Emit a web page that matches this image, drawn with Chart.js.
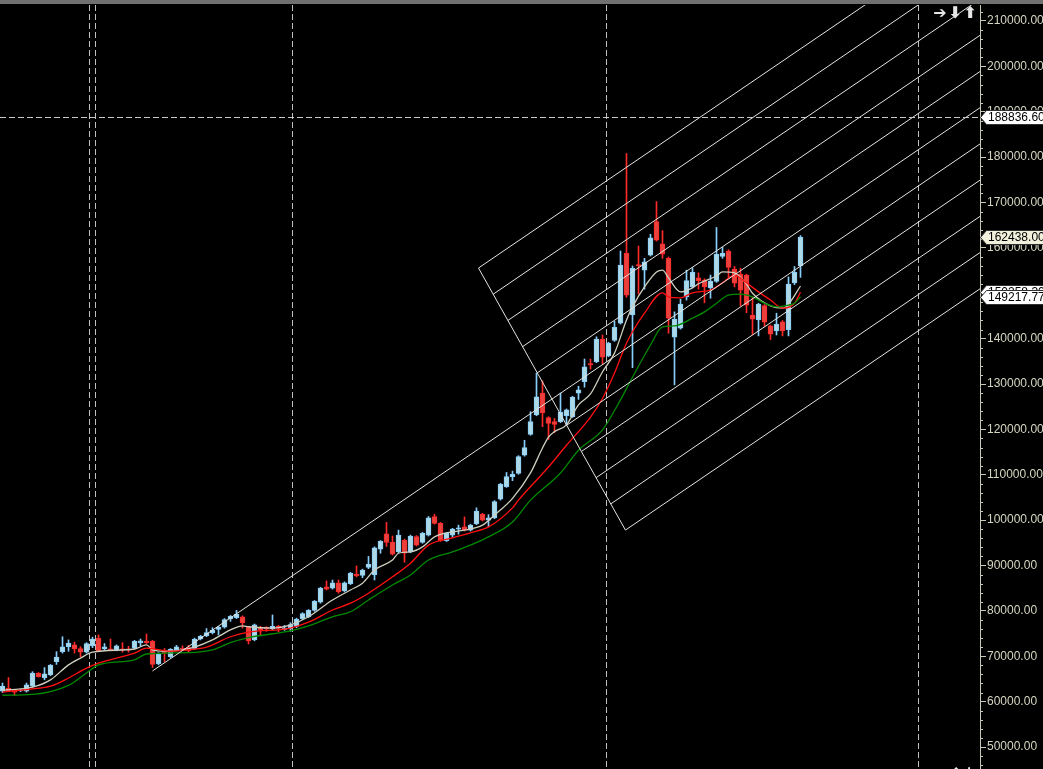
<!DOCTYPE html>
<html>
<head>
<meta charset="utf-8">
<style>
  html, body { margin: 0; padding: 0; background: #000; }
  canvas { display: block; }
</style>
<script src="https://cdn.jsdelivr.net/npm/chart.js@4.4.1/dist/chart.umd.min.js"></script>
</head>
<body>
<canvas id="chart" width="1043" height="769"></canvas>
<script>
// candles, oldest first (bar index = position in array)
var opens = [
  62300, 63000, 62500, 62400, 62300, 63400, 66300, 65300, 65900, 68800,
  71000, 72100, 72500, 71700, 70900, 72300, 74000, 71600, 71600, 71400,
  71600, 71600, 71800, 73000, 73300, 73300, 68300, 71000, 69900, 71400,
  71800, 71900, 71700, 73800, 74500, 75200, 75900, 76400, 78200, 78500,
  78700, 76400, 73600, 76400, 76400, 76000, 76600, 75900, 76000, 76600,
  78300, 78700, 80100, 81900, 85300, 85000, 86200, 84400, 86000, 88100,
  87800, 89600, 87900, 93600, 97000, 95100, 93000, 95600, 93000, 96400,
  95100, 96700, 100800, 99300, 95500, 96700, 98000, 98500, 97800, 99200,
  101300, 100000, 100500, 104600, 107400, 109600, 110300, 114300, 118900, 123200,
  128000, 122600, 121700, 121700, 123000, 122800, 128000, 130500, 134500, 134900,
  139900, 136200, 139600, 143400, 158800, 145200, 156300, 155100, 158400, 165800,
  160900, 157700, 140300, 142300, 149200, 151400, 153400, 152900, 151200, 152600,
  158100, 159300, 155300, 154200, 154000, 145200, 144100, 147300, 142800, 141700,
  143700, 142000, 152300, 156000
];
var highs = [
  64100, 65300, 62700, 62800, 64100, 66600, 66400, 67500, 68200, 71000,
  74300, 73600, 73100, 72100, 73000, 74200, 74700, 72800, 73800, 72500,
  73000, 72200, 73500, 73800, 74900, 73500, 70800, 71700, 71700, 72400,
  72300, 72400, 74000, 74600, 76100, 76300, 76600, 78300, 79000, 80100,
  78900, 76600, 77100, 76600, 76500, 79100, 76800, 76800, 77400, 78400,
  79600, 80300, 82300, 85200, 86600, 86800, 86800, 86400, 88500, 89900,
  89200, 92000, 94100, 95500, 99500, 96500, 97800, 95800, 96700, 96600,
  97300, 100800, 101300, 99500, 97300, 98200, 98900, 100700, 99100, 102700,
  101500, 101200, 104300, 108100, 110500, 110800, 114200, 117600, 123900, 132400,
  130700, 122800, 122400, 128000, 124500, 127300, 129500, 135500, 135500, 140400,
  140800, 139200, 143800, 159300, 180800, 156000, 160400, 157700, 163000, 170200,
  163800, 158000, 145900, 148700, 155100, 155600, 154500, 153200, 154000, 164500,
  160100, 159600, 155900, 155500, 154200, 149200, 147800, 147500, 143000, 145600,
  144000, 153600, 155900, 162700
];
var lows = [
  62000, 62200, 61300, 62200, 62100, 63200, 65400, 64800, 65700, 68200,
  70700, 71100, 70700, 69900, 70700, 71900, 71000, 71400, 71300, 71200,
  70900, 70900, 71600, 72300, 72800, 67500, 68100, 68800, 69700, 71200,
  71300, 70900, 71500, 73600, 74300, 74900, 74700, 76200, 77700, 78300,
  76200, 72700, 73400, 74700, 75500, 75800, 75400, 75700, 75500, 76300,
  78100, 78500, 79900, 81700, 84600, 84800, 83900, 84200, 85800, 87500,
  87300, 89300, 86800, 92700, 94200, 92300, 92800, 90700, 92800, 94300,
  94900, 96500, 99100, 95300, 95300, 96200, 96900, 97600, 97600, 99000,
  99800, 98500, 100300, 104400, 107200, 108700, 110100, 114100, 118700, 123000,
  120600, 117800, 119300, 121500, 121000, 122600, 126600, 129300, 133300, 134700,
  134400, 136000, 139400, 143200, 149100, 133600, 149800, 150900, 158200, 161500,
  157700, 141200, 129800, 142100, 148500, 151200, 150900, 147900, 148900, 152400,
  157700, 153500, 151400, 147200, 145700, 140900, 140600, 142700, 139800, 140800,
  140600, 140600, 151900, 153500
];
var closes = [
  63400, 62400, 62100, 62600, 63700, 66300, 65500, 66100, 68000, 69800,
  72100, 72900, 71600, 70900, 72800, 73800, 71200, 72100, 71400, 72300,
  71400, 71400, 73300, 73400, 73000, 68200, 70400, 70600, 71500, 72100,
  71600, 71300, 73800, 74400, 75200, 75700, 76400, 78100, 78800, 79300,
  77400, 73400, 76900, 75800, 76000, 76600, 76200, 76200, 77000, 78200,
  79400, 80100, 82100, 85000, 84800, 86200, 84200, 86200, 88300, 87700,
  89000, 90300, 93900, 95300, 95100, 92500, 96700, 92700, 96500, 94500,
  97100, 100500, 99300, 95500, 97100, 98000, 98300, 97800, 98900, 102000,
  100000, 100500, 104100, 107900, 109600, 110100, 114000, 116000, 121700, 127200,
  123600, 121300, 121100, 123800, 124300, 127100, 128700, 133800, 134200, 139900,
  135900, 139000, 142500, 156200, 149600, 155500, 156000, 156900, 162200, 161700,
  158600, 144500, 144300, 147600, 152800, 154600, 152800, 151400, 152700, 158600,
  158800, 155700, 152200, 150700, 147400, 144300, 147600, 143600, 141000, 143200,
  141700, 152000, 154600, 162400
];

// moving averages: [bar index, value]
var maFast = [
  [0, 62500], [5, 63200], [8, 64800], [11, 68100], [13, 69600], [15, 70900],
  [22, 71600], [24, 72500], [25, 71400], [27, 71100], [30, 71400], [32, 72000],
  [35, 73600], [38, 75800], [40, 76700], [41, 76500], [45, 76200], [48, 76900],
  [51, 78700], [55, 82400], [58, 84600], [60, 86100], [62, 89000], [65, 91200],
  [66, 92700], [68, 93000], [70, 94100], [72, 96300], [74, 97200], [77, 97800],
  [80, 98900], [82, 101100], [85, 104800], [88, 110400], [90, 115900], [91, 118300],
  [92, 119500], [94, 121000], [96, 125400], [98, 127800], [100, 132700], [102, 136800],
  [104, 144100], [105, 147000], [107, 151400], [109, 154700], [110, 155100], [111, 153400],
  [113, 150300], [115, 151200], [116, 152100], [119, 153800], [120, 154700], [122, 154500],
  [124, 152000], [125, 150000], [128, 147200], [130, 146700], [131, 147600], [133, 151600]
];
var maMid = [
  [0, 62100], [5, 62800], [8, 63400], [11, 65200], [14, 67400], [16, 68500],
  [22, 70700], [24, 71800], [28, 71100], [31, 71400], [34, 72000], [38, 74300],
  [41, 75300], [48, 76200], [51, 77500], [55, 80200], [58, 81700], [61, 83900],
  [65, 87500], [68, 90500], [71, 94500], [75, 96100], [78, 97200], [81, 98500],
  [85, 102700], [86, 104400], [91, 111700], [94, 116500], [98, 122700], [100, 126800],
  [102, 132400], [104, 139000], [107, 145600], [110, 150100], [111, 149200], [113, 149000],
  [115, 150100], [118, 150700], [120, 152300], [122, 154000], [124, 152300], [126, 150300],
  [128, 148500], [130, 146700], [132, 147800], [133, 150258]
];
var maSlow = [
  [0, 61400], [5, 61600], [11, 63600], [14, 66300], [16, 68100], [22, 69200],
  [24, 70500], [31, 70800], [35, 71400], [38, 73000], [41, 74100], [48, 75600],
  [51, 76700], [55, 78700], [58, 79800], [61, 82400], [65, 85700], [68, 87900],
  [71, 91200], [75, 93000], [78, 94500], [81, 96300], [85, 99600], [88, 104400],
  [93, 110400], [96, 115400], [100, 119900], [103, 126500], [105, 131500], [108, 138600],
  [110, 142600], [112, 142800], [115, 144500], [117, 145900], [119, 147800], [121, 149600],
  [123, 149800], [125, 149200], [127, 147800], [129, 147000], [131, 147400], [132, 147800],
  [133, 149218]
];

// price axis
var priceTicks = [50000, 60000, 70000, 80000, 90000, 100000, 110000, 120000,
  130000, 140000, 150000, 160000, 170000, 180000, 190000, 200000, 210000];
var priceMinorStep = 2000;
var priceMin = 45152;
var priceMax = 213526;

// visible bar range, and period separators (in bars)
var barMin = -0.41667;
var barMax = 162.9167;
var separators = [14.55, 15.55, 48.4, 100.6, 152.7];

// channel object: edge from top anchor to bottom anchor, parallel lines to the right
var channelTop = [79.33, 155560];
var channelBottom = [103.83, 97800];
var channelCount = 11;
var channelSlope = 900;   // price per bar
var trendFrom = 25;       // trendline runs back along the middle channel line

var crosshairPrice = 188836.60;
var priceLabels = [
  { value: 188836.60, bg: '#ffffff' },
  { value: 162438.00, bg: '#f0f0dc' },
  { value: 150258.30, bg: '#ffffff' },
  { value: 149217.77, bg: '#ffffff' }
];

var bullFill = '#add8e6', bullEdge = '#87cefa';
var bearFill = '#e8413e', bearEdge = '#ff2a2a';
var axisColor = '#c8c8b4';
var labelFont = '12px "Liberation Sans", Arial, sans-serif';

function isBull(ctx) {
  var i = ctx.dataIndex;
  if (i === undefined) return true;
  return closes[i] >= opens[i];
}

function pairs(list) {
  return list.map(function (p) { return { x: p[0], y: p[1] }; });
}

function objectLine(points) {
  return {
    type: 'line',
    data: points,
    borderColor: '#e4e4e0',
    borderWidth: 1,
    pointRadius: 0,
    tension: 0,
    order: 0
  };
}

function maLine(list, color) {
  return {
    type: 'line',
    data: pairs(list),
    borderColor: color,
    borderWidth: 1.3,
    pointRadius: 0,
    cubicInterpolationMode: 'monotone',
    order: 1
  };
}

var datasets = [];

datasets.push({
  type: 'bar',
  data: highs.map(function (h, i) { return { x: i, y: [lows[i], h] }; }),
  backgroundColor: function (ctx) { return isBull(ctx) ? bullEdge : bearEdge; },
  barThickness: 1,
  grouped: false,
  order: 3
});
datasets.push({
  type: 'bar',
  data: opens.map(function (o, i) { return { x: i, y: [o, closes[i]] }; }),
  backgroundColor: function (ctx) { return isBull(ctx) ? bullFill : bearFill; },
  borderColor: function (ctx) { return isBull(ctx) ? bullEdge : bearEdge; },
  borderWidth: 1,
  borderSkipped: false,
  barThickness: 5,
  minBarLength: 1,
  grouped: false,
  order: 2
});

datasets.push(maLine(maSlow, '#008a00'));
datasets.push(maLine(maMid, '#ff1010'));
datasets.push(maLine(maFast, '#cfcfc0'));

// channel
var mid = Math.floor(channelCount / 2);
for (var k = 0; k < channelCount; k++) {
  var t = k / (channelCount - 1);
  var sx = channelTop[0] + (channelBottom[0] - channelTop[0]) * t;
  var sy = channelTop[1] + (channelBottom[1] - channelTop[1]) * t;
  var fromX = (k === mid) ? trendFrom : sx;
  var fromY = sy + channelSlope * (fromX - sx);
  datasets.push(objectLine([
    { x: fromX, y: fromY },
    { x: barMax, y: sy + channelSlope * (barMax - sx) }
  ]));
}
datasets.push(objectLine([
  { x: channelTop[0], y: channelTop[1] },
  { x: channelBottom[0], y: channelBottom[1] }
]));

var decor = {
  id: 'decor',
  beforeDraw: function (chart) {
    var c = chart.ctx;
    c.save();
    c.fillStyle = '#000';
    c.fillRect(0, 0, chart.width, chart.height);
    c.fillStyle = '#707070';
    c.fillRect(0, 0, chart.width, 4);
    c.restore();
  },
  afterDraw: function (chart) {
    var c = chart.ctx;
    var ys = chart.scales.y;
    var area = chart.chartArea;
    c.save();

    // crosshair
    var cy = Math.round(ys.getPixelForValue(crosshairPrice)) + 0.5;
    c.strokeStyle = '#c8c8c8';
    c.lineWidth = 1;
    c.setLineDash([6, 3]);
    c.beginPath();
    c.moveTo(area.left, cy);
    c.lineTo(area.right, cy);
    c.stroke();
    c.setLineDash([]);

    // minor ticks on the price axis
    c.strokeStyle = axisColor;
    for (var v = Math.ceil(priceMin / priceMinorStep) * priceMinorStep; v <= priceMax; v += priceMinorStep) {
      if (v % 10000 === 0) continue;
      var y = Math.round(ys.getPixelForValue(v)) + 0.5;
      c.beginPath();
      c.moveTo(area.right, y);
      c.lineTo(area.right + 3, y);
      c.stroke();
    }

    // price tags
    c.font = labelFont;
    c.textBaseline = 'middle';
    c.textAlign = 'left';
    priceLabels.forEach(function (p) {
      var y = Math.round(ys.getPixelForValue(p.value));
      var x0 = area.right;
      c.beginPath();
      c.moveTo(x0 + 0.5, y + 0.5);
      c.lineTo(x0 + 6.5, y - 6.5);
      c.lineTo(chart.width + 2, y - 6.5);
      c.lineTo(chart.width + 2, y + 7.5);
      c.lineTo(x0 + 6.5, y + 7.5);
      c.closePath();
      c.fillStyle = p.bg;
      c.fill();
      c.strokeStyle = '#303030';
      c.stroke();
      c.fillStyle = '#000';
      c.fillText(p.value.toFixed(2), x0 + 8, y + 1);
    });

    // arrow marks
    c.fillStyle = '#e6e6e6';
    c.font = 'bold 16px "DejaVu Sans", sans-serif';
    c.textAlign = 'center';
    c.fillText('\u2794', 940, 14);
    c.fillText('\u2B07', 955, 14);
    c.fillText('\u2B06', 970, 14);
    c.fillText('\u2B06', 956, 775);
    c.fillText('\u2193', 969, 775);
    c.restore();
  }
};

new Chart(document.getElementById('chart'), {
  type: 'bar',
  data: { datasets: datasets },
  options: {
    responsive: false,
    devicePixelRatio: 1,
    animation: false,
    events: [],
    layout: { padding: { top: 5, left: 0, right: 0, bottom: 0 } },
    plugins: { legend: { display: false }, tooltip: { enabled: false } },
    scales: {
      x: {
        type: 'linear',
        min: barMin,
        max: barMax,
        offset: false,
        afterBuildTicks: function (s) { s.ticks = separators.map(function (v) { return { value: v }; }); },
        afterFit: function (s) { s.height = 0; s.paddingLeft = 0; s.paddingRight = 0; },
        ticks: { display: false, padding: 0 },
        grid: { offset: false, color: '#c0c0c0', lineWidth: 1, drawTicks: false },
        border: { display: false, dash: [6, 3] }
      },
      y: {
        position: 'right',
        min: priceMin,
        max: priceMax,
        beginAtZero: false,
        afterFit: function (s) { s.width = 63; s.paddingTop = 0; s.paddingBottom = 0; },
        afterBuildTicks: function (s) { s.ticks = priceTicks.map(function (v) { return { value: v }; }); },
        ticks: {
          color: '#d6d6c2',
          font: { family: '"Liberation Sans", Arial, sans-serif', size: 12 },
          padding: 1,
          callback: function (v) { return Number(v).toFixed(2); }
        },
        grid: { drawOnChartArea: false, drawTicks: true, tickLength: 6, color: axisColor },
        border: { display: true, color: axisColor }
      }
    }
  },
  plugins: [decor]
});
</script>
</body>
</html>
